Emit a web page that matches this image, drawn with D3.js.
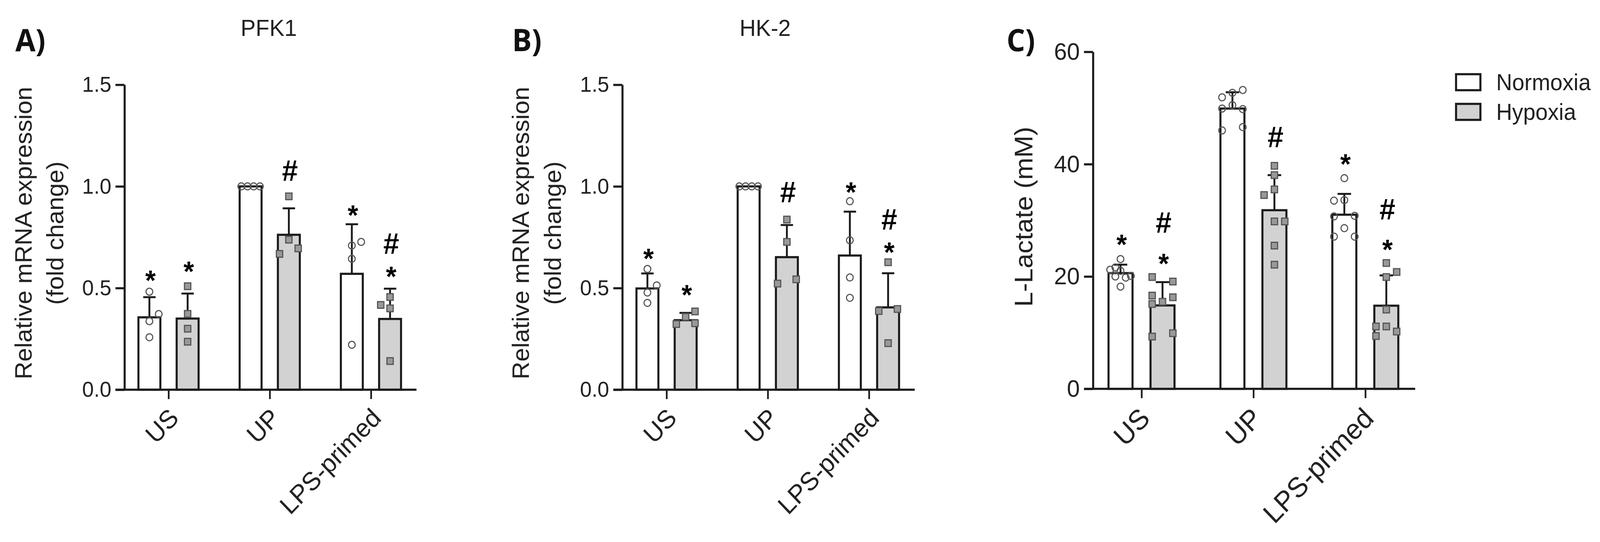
<!DOCTYPE html>
<html>
<head>
<meta charset="utf-8">
<script src="https://cdn.jsdelivr.net/npm/d3@7"></script>
<style>
  html, body { margin: 0; padding: 0; background: #fff; overflow: hidden; }
  svg { display: block; width: 100vw; height: 100vh; }
  text { font-family: "Liberation Sans", Arial, sans-serif; fill: #222; }
</style>
</head>
<body>
<!-- the window can come out narrower than asked, so the frame is stretched to fill it -->
<svg id="chart" viewBox="0 0 4268 1388" preserveAspectRatio="none"></svg>
<script>
const categories = ["US", "UP", "LPS-primed"];
const seriesNames = ["Normoxia", "Hypoxia"];

// every per-bar array runs US N, US H, UP N, UP H, LPS N, LPS H
const pfk1Means = [0.356, 0.35, 1.0, 0.762, 0.57, 0.348];
const pfk1Upper = [0.455, 0.473, null, 0.892, 0.814, 0.497];
const pfk1Points = [
  [0.482, 0.372, 0.337, 0.258],
  [0.509, 0.373, 0.30, 0.236],
  [1.0, 1.0, 1.0, 1.0],
  [0.951, 0.738, 0.695, 0.668],
  [0.709, 0.727, 0.644, 0.221],
  [0.456, 0.40, 0.417, 0.141]
];
// swarm column of each point, 0 is the bar centre
const pfk1Swarm = [
  [0, 3, 0, 0], [0, 0, 0, 0], [-3, -1, 1, 3],
  [0, 0, 3, -3], [0, 3, 0, 0], [0, 0, -3, 0]
];
const pfk1Stars = [0.57, 0.615, null, null, 0.891, 0.59];
const pfk1Hashes = [null, null, null, 1.08, null, 0.72];

const hk2Means = [0.498, 0.342, 1.0, 0.652, 0.66, 0.405];
const hk2Upper = [0.572, 0.378, null, 0.81, 0.876, 0.573];
const hk2Points = [
  [0.594, 0.513, 0.478, 0.427],
  [0.385, 0.358, 0.323, 0.327],
  [1.0, 1.0, 1.0, 1.0],
  [0.837, 0.727, 0.543, 0.522],
  [0.927, 0.735, 0.552, 0.452],
  [0.627, 0.397, 0.387, 0.229]
];
const hk2Swarm = [
  [0, 3, 0, 0], [3, 0, -3, 3], [-3, -1, 1, 3],
  [0, 0, 3, -3], [0, 0, 0, 0], [0, 3, -3, 0]
];
const hk2Stars = [0.678, 0.50, null, null, 1.004, 0.709];
const hk2Hashes = [null, null, null, 0.973, null, 0.84];

const lactateMeans = [20.6, 14.85, 49.9, 31.8, 31.0, 14.8];
const lactateUpper = [22.1, 19.0, 52.8, 38.05, 34.7, 20.2];
const lactatePoints = [
  [23.1, 21.2, 21.6, 21.0, 20.1, 20.0, 19.8, 18.2],
  [19.9, 19.1, 16.6, 16.3, 15.5, 15.1, 9.9, 9.3],
  [53.2, 51.9, 52.7, 50.5, 49.9, 49.8, 46.6, 46.0],
  [39.7, 38.05, 35.5, 34.5, 29.8, 29.8, 25.5, 22.1],
  [37.5, 33.5, 33.6, 30.7, 30.8, 28.6, 27.1, 27.1],
  [22.4, 20.8, 19.9, 14.1, 11.1, 11.1, 10.2, 9.4]
];
const lactateSwarm = [
  [0, -2, -1, 0, 2, -1, 1, 0],
  [-2, 2, -2, 2, 0, -2, 2, -2],
  [2, -2, 0, 0, -2, 2, 2, -2],
  [0, 0, 0, -2, 0, 2, 0, 0],
  [0, -2, 0, -2, 2, 0, -2, 2],
  [0, 2, 0, 0, -2, 0, 2, -2]
];
const lactateStars = [26.9, 23.5, null, null, 41.2, 26];
const lactateHashes = [null, 29.7, null, 44.9, null, 32];

const expressionTicks = [0, 0.5, 1, 1.5];
const lactateTicks = [0, 20, 40, 60];

const barFill = { Normoxia: "#fff", Hypoxia: "#d2d2d2" };
const inkColor = "#1c1c1c";
const svg = d3.select("#chart");

function drawPanel(p) {
  const y = d3.scaleLinear().domain([0, p.yMax]).range([p.y0, p.yTop]);
  const x = d3.scalePoint().domain(categories).range(p.xRange);
  const side = d3.scalePoint().domain(seriesNames).range([-p.barOffset, p.barOffset]);

  // flatten to one row per bar, matching the order of the arrays
  const rows = d3.cross(categories, seriesNames).map(([cat, name], i) => ({
    name,
    cx: x(cat) + side(name),
    mean: p.means[i],
    upper: p.upper[i],
    points: p.points[i].map((v, j) => ({ v, col: p.swarm[i][j] })),
    star: p.stars[i],
    hash: p.hashes[i]
  }));

  const g = svg.append("g");

  // bars
  g.selectAll(".bar").data(rows).join("rect")
    .attr("x", d => d.cx - p.barWidth / 2)
    .attr("y", d => y(d.mean))
    .attr("width", p.barWidth)
    .attr("height", d => y(0) - y(d.mean))
    .attr("fill", d => barFill[d.name])
    .attr("stroke", inkColor)
    .attr("stroke-width", 5.5);

  // error bars, upper side only
  const withErr = rows.filter(d => d.upper !== null);
  g.selectAll(".err").data(withErr).join("line")
    .attr("x1", d => d.cx).attr("x2", d => d.cx)
    .attr("y1", d => y(d.mean)).attr("y2", d => y(d.upper))
    .attr("stroke", inkColor).attr("stroke-width", 5);
  g.selectAll(".cap").data(withErr).join("line")
    .attr("x1", d => d.cx - p.capWidth / 2).attr("x2", d => d.cx + p.capWidth / 2)
    .attr("y1", d => y(d.upper)).attr("y2", d => y(d.upper))
    .attr("stroke", inkColor).attr("stroke-width", 5);

  // individual points: open circles for normoxia, grey squares for hypoxia
  rows.filter(d => d.name === "Normoxia").forEach(d => {
    g.selectAll(null).data(d.points).join("circle")
      .attr("cx", q => d.cx + q.col * p.swarmStep)
      .attr("cy", q => y(q.v))
      .attr("r", 9)
      .attr("fill", "none")
      .attr("stroke", "#555")
      .attr("stroke-width", 3);
  });
  rows.filter(d => d.name === "Hypoxia").forEach(d => {
    g.selectAll(null).data(d.points).join("rect")
      .attr("x", q => d.cx + q.col * p.swarmStep - 8.5)
      .attr("y", q => y(q.v) - 8.5)
      .attr("width", 17)
      .attr("height", 17)
      .attr("fill", "#999")
      .attr("stroke", "#555")
      .attr("stroke-width", 3);
  });

  // significance marks
  g.selectAll(".star").data(rows.filter(d => d.star !== null)).join("text")
    .attr("x", d => d.cx + 3)
    .attr("y", d => y(d.star) + 42)
    .attr("text-anchor", "middle")
    .attr("font-size", 72)
    .attr("font-weight", "bold")
    .style("fill", "#000")
    .text("*");
  g.selectAll(".hash").data(rows.filter(d => d.hash !== null)).join("text")
    .attr("x", d => d.cx + 3)
    .attr("y", d => y(d.hash) + 27)
    .attr("text-anchor", "middle")
    .attr("font-size", 76)
    .attr("font-weight", "bold")
    .style("fill", "#000")
    .text("#");

  // axes
  const yAxis = d3.axisLeft(y)
    .tickValues(p.ticks)
    .tickFormat(p.tickFormat)
    .tickSize(24)
    .tickSizeOuter(0)
    .tickPadding(11);
  const yG = g.append("g").attr("transform", `translate(${p.x0},0)`).call(yAxis);
  yG.selectAll("path, line").attr("stroke", inkColor).attr("stroke-width", 5.5);
  yG.selectAll("text").attr("font-size", p.tickFont).style("font-family", null);

  const xAxis = d3.axisBottom(x).tickSize(24).tickSizeOuter(0);
  const xG = g.append("g").attr("transform", `translate(0,${p.y0})`).call(xAxis);
  xG.select(".domain").remove();
  xG.selectAll("line").attr("stroke", inkColor).attr("stroke-width", 4.5);
  xG.selectAll("text")
    .attr("font-size", p.catFont)
    .attr("text-anchor", "end")
    .attr("x", 0).attr("y", 0).attr("dy", "0.35em")
    .attr("transform", `translate(${p.catDx},${p.catDy}) rotate(-45)`);
  g.append("line")
    .attr("x1", p.x0 - 24).attr("x2", p.xEnd)
    .attr("y1", p.y0).attr("y2", p.y0)
    .attr("stroke", inkColor).attr("stroke-width", 5.5);

  // y title, one or two lines
  p.yLabel.forEach((t, i) => {
    g.append("text")
      .attr("transform", `translate(${p.yLabelX[i]},${p.yLabelY}) rotate(-90)`)
      .attr("text-anchor", "middle")
      .attr("dy", "0.35em")
      .attr("font-size", p.yLabelFont)
      .text(t);
  });

  if (p.title) {
    g.append("text")
      .attr("x", p.titleX).attr("y", 92)
      .attr("text-anchor", "middle")
      .attr("font-size", 60)
      .text(p.title);
  }

  svg.append("text")
    .attr("x", p.letterX).attr("y", 131)
    .attr("font-size", 78)
    .attr("font-weight", "bold")
    .style("font-family", "'Open Sans', sans-serif")
    .style("fill", "#111")
    .text(p.letter);
}

const twoLineLabel = ["Relative mRNA expression", "(fold change)"];

drawPanel({
  letter: "A)", letterX: 41, title: "PFK1", titleX: 717,
  means: pfk1Means, upper: pfk1Upper, points: pfk1Points, swarm: pfk1Swarm,
  stars: pfk1Stars, hashes: pfk1Hashes,
  yMax: 1.5, y0: 998, yTop: 217, x0: 332, xEnd: 1111,
  xRange: [449.5, 989.5], barOffset: 51, barWidth: 58.5, capWidth: 33, swarmStep: 8.3,
  ticks: expressionTicks, tickFormat: d3.format(".1f"), tickFont: 56,
  catFont: 66, catDx: 14, catDy: 60,
  yLabel: twoLineLabel, yLabelX: [62, 147], yLabelY: 597, yLabelFont: 63
});

drawPanel({
  letter: "B)", letterX: 1366, title: "HK-2", titleX: 2041,
  means: hk2Means, upper: hk2Upper, points: hk2Points, swarm: hk2Swarm,
  stars: hk2Stars, hashes: hk2Hashes,
  yMax: 1.5, y0: 998, yTop: 217, x0: 1660, xEnd: 2440,
  xRange: [1778, 2318], barOffset: 51, barWidth: 58.5, capWidth: 33, swarmStep: 8.3,
  ticks: expressionTicks, tickFormat: d3.format(".1f"), tickFont: 56,
  catFont: 66, catDx: 14, catDy: 60,
  yLabel: twoLineLabel, yLabelX: [1389, 1474], yLabelY: 597, yLabelFont: 63
});

drawPanel({
  letter: "C)", letterX: 2685, title: null,
  means: lactateMeans, upper: lactateUpper, points: lactatePoints, swarm: lactateSwarm,
  stars: lactateStars, hashes: lactateHashes,
  yMax: 60, y0: 995.7, yTop: 132.7, x0: 2915.5, xEnd: 3775,
  xRange: [3045, 3642], barOffset: 56, barWidth: 64, capWidth: 36, swarmStep: 13.8,
  ticks: lactateTicks, tickFormat: d3.format("d"), tickFont: 62,
  catFont: 72, catDx: 8, catDy: 62,
  yLabel: ["L-Lactate (mM)"], yLabelX: [2730], yLabelY: 555, yLabelFont: 68
});

// legend
const legend = svg.append("g").selectAll("g").data(seriesNames).join("g")
  .attr("transform", (d, i) => `translate(3884,${190 + i * 76})`);
legend.append("rect")
  .attr("width", 65).attr("height", 41)
  .attr("fill", d => barFill[d])
  .attr("stroke", inkColor).attr("stroke-width", 5.5);
legend.append("text")
  .attr("x", 107).attr("y", 20).attr("dy", "0.35em")
  .attr("font-size", 59)
  .text(d => d);
</script>
</body>
</html>
